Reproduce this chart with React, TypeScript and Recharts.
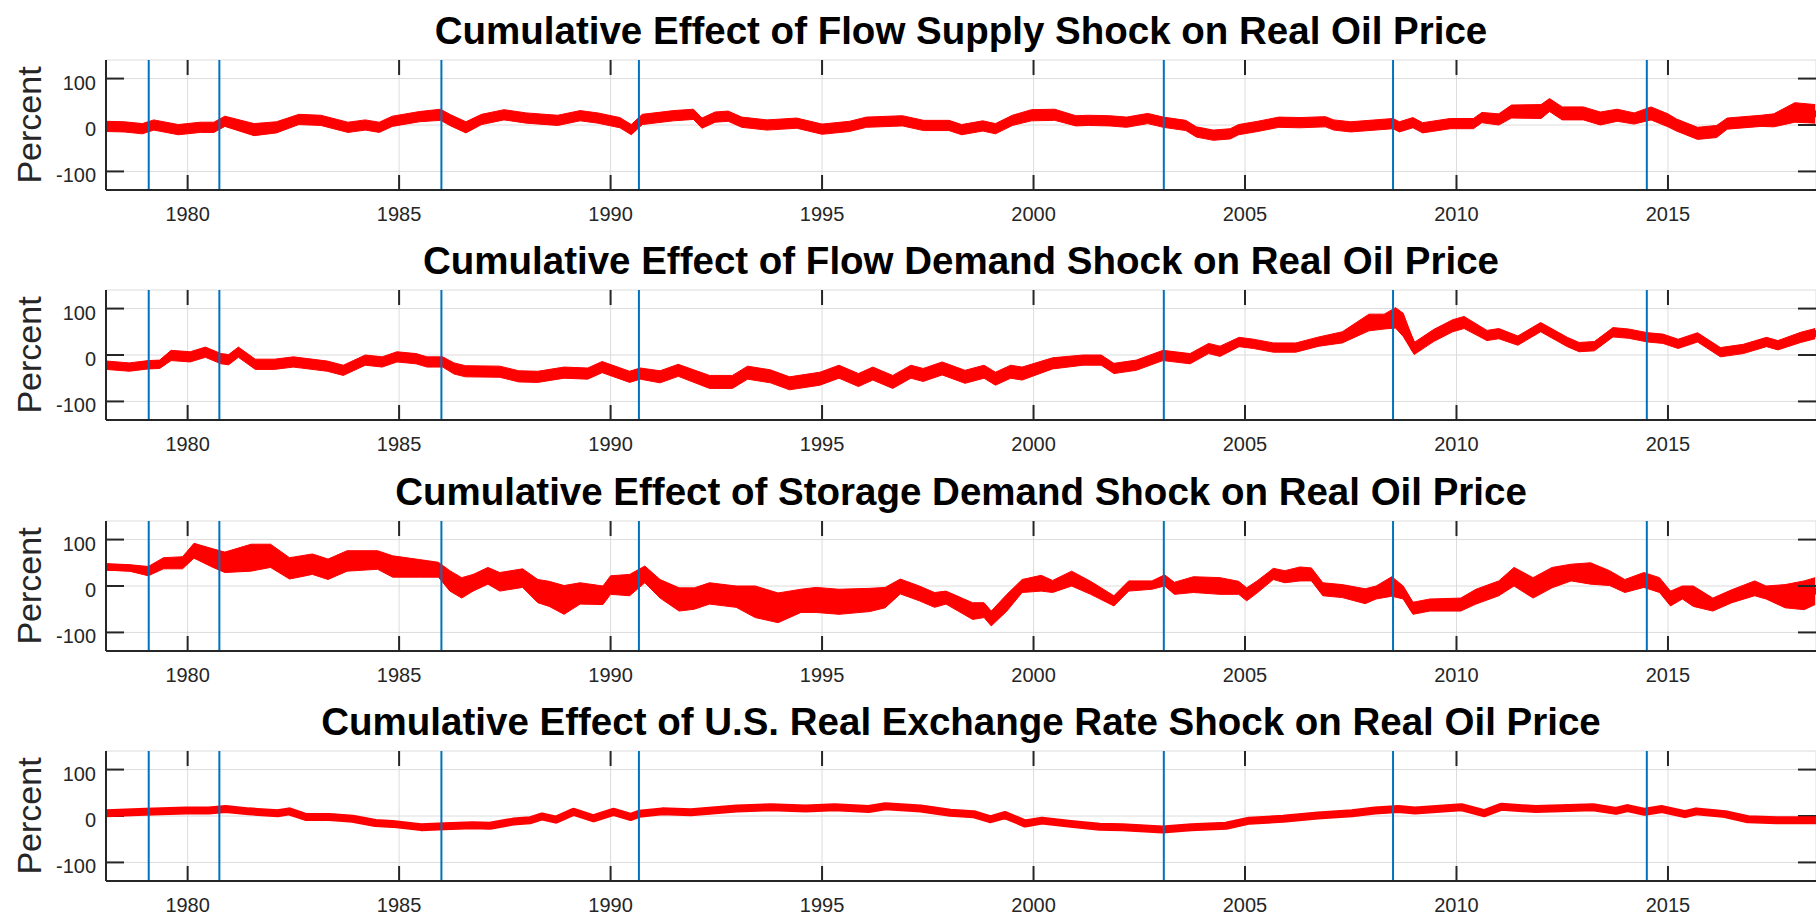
import React from "react";
import { ComposedChart, Area, Line, XAxis, YAxis, CartesianGrid, ReferenceLine } from "recharts";

// x axis: decimal years
const yearTicks = [1980, 1985, 1990, 1995, 2000, 2005, 2010, 2015];
const percentTicks = [-100, 0, 100];
// dates marked with vertical lines
const eventDates = [1979.08, 1980.75, 1986.0, 1990.67, 2003.08, 2008.5, 2014.5];

// Flow supply shock
const supplyYears = [
  1978.07, 1978.5, 1978.93, 1979.2, 1979.78, 1980.3, 1980.62, 1980.88, 1981.57, 1982.1,
  1982.63, 1983.15, 1983.79, 1984.2, 1984.53, 1984.84, 1985.48, 1985.98, 1986.22, 1986.58,
  1986.95, 1987.48, 1988.01, 1988.75, 1989.28, 1989.7, 1990.22, 1990.49, 1990.75, 1991.49,
  1991.96, 1992.16, 1992.47, 1992.78, 1993.1, 1993.7, 1994.4, 1995.0, 1995.65, 1996.05,
  1996.9, 1997.4, 1998.0, 1998.3, 1998.8, 1999.1, 1999.5, 1999.95, 2000.5, 2001.0,
  2001.3, 2001.8, 2002.2, 2002.7, 2003.07, 2003.6, 2003.85, 2004.25, 2004.65, 2004.85,
  2005.3, 2005.8, 2006.3, 2006.9, 2007.1, 2007.5, 2008.5, 2008.65, 2008.97, 2009.2,
  2009.85, 2010.4, 2010.6, 2011.0, 2011.3, 2012.0, 2012.2, 2012.5, 2013.0, 2013.4,
  2013.8, 2014.2, 2014.6, 2015.0, 2015.2, 2015.7, 2016.15, 2016.4, 2017.2, 2017.5,
  2018.0, 2018.48,
];
const supplyMid = [
  -3, -4, -8, 0, -10, -5, -5, 8, -10, -5,
  12, 10, -5, 0, -5, 8, 18, 22, 10, -5,
  12, 22, 15, 10, 20, 15, 5, -10, 12, 20,
  23, 4, 17, 19, 6, 0, 4, -9, -3, 6,
  9, -1, -1, -10, -2, -8, 10, 21, 22, 9,
  10, 9, 6, 14, 6, -1, -15, -22, -19, -10,
  -3, 6, 5, 7, 0, -4, 3, -4, 5, -6,
  3, 3, 16, 12, 29, 29, 43, 25, 25, 14,
  21, 14, 25, 10, 0, -18, -14, 3, 9, 10,
  27, 24,
];
const supplyHalf = [
  11, 11, 11, 11, 11, 11, 11, 11, 13, 12,
  11, 11, 11, 11, 11, 11, 11, 12, 12, 12,
  11, 11, 11, 11, 11, 11, 11, 11, 11, 11,
  11, 11, 11, 11, 11, 11, 11, 11, 11, 11,
  11, 11, 11, 11, 11, 11, 11, 12, 12, 11,
  11, 11, 11, 11, 11, 11, 11, 11, 11, 11,
  11, 11, 11, 11, 11, 11, 11, 11, 11, 11,
  11, 11, 11, 12, 14, 15, 14, 14, 14, 14,
  13, 12, 14, 14, 13, 13, 13, 12, 12, 14,
  21, 20,
];

// Flow demand shock
const demandYears = [
  1978.08, 1978.62, 1979.07, 1979.34, 1979.61, 1980.06, 1980.42, 1980.79, 1980.97, 1981.2,
  1981.6, 1982.05, 1982.5, 1983.3, 1983.68, 1984.2, 1984.6, 1984.95, 1985.4, 1985.66,
  1986.03, 1986.3, 1986.57, 1987.38, 1987.83, 1988.28, 1988.9, 1989.46, 1989.8, 1990.45,
  1990.7, 1991.17, 1991.6, 1992.34, 1992.88, 1993.24, 1993.78, 1994.23, 1994.95, 1995.4,
  1995.86, 1996.2, 1996.67, 1997.1, 1997.39, 1997.84, 1998.38, 1998.83, 1999.1, 1999.46,
  1999.73, 2000.45, 2001.17, 2001.6, 2001.9, 2002.43, 2003.06, 2003.7, 2004.14, 2004.41,
  2004.86, 2005.2, 2005.67, 2006.2, 2006.75, 2007.3, 2007.93, 2008.29, 2008.56, 2008.74,
  2009.0, 2009.46, 2009.91, 2010.18, 2010.72, 2011.0, 2011.45, 2011.99, 2012.62, 2012.9,
  2013.26, 2013.7, 2014.07, 2014.52, 2014.88, 2015.24, 2015.7, 2016.24, 2016.78, 2017.33,
  2017.6, 2018.14, 2018.48,
];
const demandMid = [
  -22, -26, -21, -20, -1, -4, 6, -8, -10, 6,
  -20, -20, -15, -24, -33, -11, -15, -4, -8, -15,
  -15, -29, -35, -36, -46, -47, -38, -40, -26, -47,
  -40, -47, -33, -58, -58, -38, -46, -61, -51, -36,
  -54, -40, -58, -36, -43, -29, -47, -36, -51, -36,
  -40, -18, -11, -11, -29, -22, -1, -8, 14, 8,
  28, 24, 16, 16, 29, 38, 70, 72, 80, 65,
  14, 42, 63, 70, 42, 46, 31, 60, 28, 17,
  19, 49, 46, 38, 35, 24, 38, 6, 13, 28,
  21, 38, 46,
];
const demandHalf = [
  9, 9, 9, 9, 11, 11, 11, 11, 11, 11,
  11, 11, 11, 11, 11, 11, 11, 11, 11, 11,
  11, 12, 12, 12, 12, 12, 12, 12, 12, 12,
  12, 13, 13, 14, 14, 14, 14, 14, 14, 14,
  14, 14, 14, 14, 14, 14, 14, 14, 14, 14,
  14, 12, 11, 11, 11, 11, 11, 11, 11, 11,
  10, 10, 10, 10, 10, 12, 18, 16, 22, 25,
  13, 13, 13, 13, 11, 11, 10, 10, 10, 10,
  10, 10, 10, 10, 10, 10, 10, 10, 10, 10,
  10, 11, 11,
];

// Storage demand shock
const storageYears = [
  1978.08, 1978.62, 1979.07, 1979.43, 1979.88, 1980.15, 1980.6, 1980.88, 1981.5, 1981.96,
  1982.41, 1982.95, 1983.32, 1983.77, 1984.49, 1984.85, 1985.48, 1985.93, 1986.2, 1986.48,
  1986.75, 1987.1, 1987.38, 1987.92, 1988.28, 1988.55, 1988.9, 1989.28, 1989.82, 1990.0,
  1990.45, 1990.81, 1991.17, 1991.62, 1991.98, 1992.34, 1992.97, 1993.42, 1993.96, 1994.5,
  1994.86, 1995.4, 1996.13, 1996.49, 1996.85, 1997.3, 1997.66, 1997.93, 1998.56, 1998.83,
  1999.0, 1999.37, 1999.73, 2000.18, 2000.45, 2000.9, 2001.35, 2001.9, 2002.25, 2002.8,
  2003.1, 2003.33, 2003.78, 2004.41, 2004.85, 2005.04, 2005.3, 2005.67, 2005.94, 2006.3,
  2006.57, 2006.84, 2007.3, 2007.84, 2008.1, 2008.47, 2008.74, 2008.97, 2009.37, 2010.1,
  2010.46, 2011.0, 2011.36, 2011.81, 2012.26, 2012.71, 2013.17, 2013.62, 2013.98, 2014.43,
  2014.8, 2015.06, 2015.34, 2015.6, 2016.06, 2016.51, 2017.05, 2017.32, 2017.77, 2018.22,
  2018.48,
];
const storageMid = [
  41, 39, 32, 49, 50, 76, 60, 51, 61, 65,
  38, 47, 36, 54, 56, 42, 38, 35, 11, -4,
  7, 22, 9, 17, -11, -17, -30, -16, -20, 2,
  2, 25, -6, -29, -27, -16, -23, -34, -47, -32,
  -30, -34, -30, -25, -1, -16, -30, -25, -54, -52,
  -70, -36, 0, 6, -1, 16, -4, -32, 0, 2,
  12, -5, 3, 0, -4, -18, -1, 26, 20, 26,
  25, -7, -11, -22, -14, -1, -14, -48, -41, -40,
  -23, -5, 20, -4, 18, 29, 27, 17, 0, 13,
  2, -27, -14, -22, -40, -22, -5, -14, -22, -20,
  -11,
];
const storageHalf = [
  7, 7, 10, 12, 13, 16, 20, 22, 29, 25,
  23, 22, 22, 22, 20, 23, 19, 16, 22, 22,
  18, 18, 20, 20, 25, 27, 31, 23, 20, 20,
  23, 18, 20, 25, 23, 23, 23, 34, 32, 25,
  27, 27, 25, 22, 16, 16, 16, 14, 18, 16,
  16, 18, 14, 17, 13, 16, 14, 11, 11, 9,
  12, 13, 17, 18, 14, 14, 13, 12, 13, 15,
  14, 14, 14, 16, 14, 21, 14, 13, 13, 14,
  16, 16, 20, 22, 22, 18, 23, 16, 14, 16,
  16, 16, 14, 22, 14, 14, 16, 14, 25, 31,
  29,
];

// U.S. real exchange rate shock
const fxYears = [
  1978.06, 1979.0, 1979.96, 1980.5, 1980.9, 1981.45, 1982.13, 1982.4, 1982.8, 1983.35,
  1983.9, 1984.44, 1984.84, 1985.52, 1986.07, 1986.74, 1987.15, 1987.7, 1988.1, 1988.37,
  1988.71, 1989.12, 1989.59, 1990.07, 1990.47, 1990.68, 1991.22, 1991.9, 1992.98, 1993.8,
  1994.61, 1995.3, 1996.1, 1996.5, 1997.33, 1998.03, 1998.58, 1998.98, 1999.32, 1999.8,
  2000.2, 2000.88, 2001.56, 2002.1, 2003.05, 2003.73, 2004.55, 2005.1, 2005.9, 2006.72,
  2007.53, 2008.07, 2008.62, 2009.02, 2010.11, 2010.65, 2011.06, 2011.87, 2013.23, 2013.77,
  2014.04, 2014.45, 2014.86, 2015.4, 2015.67, 2016.35, 2016.89, 2017.57, 2018.49,
];
const fxMid = [
  6, 9, 12, 12, 15, 10, 6, 10, -2, -2,
  -6, -15, -17, -24, -22, -20, -21, -12, -9, -1,
  -8, 9, -5, 9, -2, 5, 10, 8, 16, 19,
  16, 19, 15, 21, 16, 7, 4, -7, 2, -16,
  -10, -17, -23, -24, -29, -24, -21, -10, -6, 1,
  6, 12, 15, 12, 19, 6, 20, 15, 19, 11,
  17, 9, 15, 4, 10, 4, -7, -9, -9,
];

const FONT = '"Liberation Sans", Arial, Helvetica, sans-serif';
const AXIS_COLOR = "#262626";
const RED = "#ff0000";
const BLUE = "#0072bd";
const X_DOMAIN = [1978.07, 2018.5];
const Y_DOMAIN = [-140, 140];

const CHART_W = 1816;
const CHART_H = 230;
const PLOT_TOP = 60;
const PLOT_LEFT = 106;
const PLOT_H = 130;

// tick mark lengths (15px / 18px), expressed in axis units
const X_TICK_LEN = (15 * (Y_DOMAIN[1] - Y_DOMAIN[0])) / PLOT_H;
const Y_TICK_LEN = (18 * (X_DOMAIN[1] - X_DOMAIN[0])) / (CHART_W - PLOT_LEFT);

const XTick = (props: any) => (
  <text x={props.x} y={props.y} textAnchor="middle" fontSize={20} fill={AXIS_COLOR} fontFamily={FONT}>
    {props.payload.value}
  </text>
);

const YTick = (props: any) => (
  <text x={props.x} y={props.y + 11} textAnchor="end" fontSize={20} fill={AXIS_COLOR} fontFamily={FONT}>
    {props.payload.value}
  </text>
);

interface PanelProps {
  top: number;
  title: string;
  years: number[];
  mid: number[];
  half?: number[];
  lineWidth: number;
}

const Panel: React.FC<PanelProps> = ({ top, title, years, mid, half, lineWidth }) => {
  const rows = years.map((year, i) => ({
    year,
    mid: mid[i],
    band: half ? [mid[i] - half[i], mid[i] + half[i]] : null,
  }));
  const axisLine = { stroke: AXIS_COLOR, strokeWidth: 2 };

  // inward tick marks on all four sides of the box
  const tickSegments: { x: number; y: number }[][] = [];
  yearTicks.forEach((t) => {
    tickSegments.push([{ x: t, y: Y_DOMAIN[0] }, { x: t, y: Y_DOMAIN[0] + X_TICK_LEN }]);
    tickSegments.push([{ x: t, y: Y_DOMAIN[1] }, { x: t, y: Y_DOMAIN[1] - X_TICK_LEN }]);
  });
  percentTicks.forEach((p) => {
    tickSegments.push([{ x: X_DOMAIN[0], y: p }, { x: X_DOMAIN[0] + Y_TICK_LEN, y: p }]);
    tickSegments.push([{ x: X_DOMAIN[1], y: p }, { x: X_DOMAIN[1] - Y_TICK_LEN, y: p }]);
  });

  return (
    <div style={{ position: "absolute", left: 0, top: top - PLOT_TOP, width: CHART_W, height: CHART_H }}>
      <div
        style={{
          position: "absolute",
          left: PLOT_LEFT,
          width: CHART_W - PLOT_LEFT,
          top: PLOT_TOP - 48,
          textAlign: "center",
          fontSize: 38.5,
          lineHeight: "38px",
          fontWeight: "bold",
          fontFamily: FONT,
          color: "#000",
          whiteSpace: "nowrap",
        }}
      >
        {title}
      </div>
      <div
        style={{
          position: "absolute",
          left: 29,
          top: PLOT_TOP + PLOT_H / 2,
          transform: "translate(-50%, -50%) rotate(-90deg)",
          fontSize: 34,
          lineHeight: "34px",
          fontFamily: FONT,
          color: AXIS_COLOR,
          whiteSpace: "nowrap",
        }}
      >
        Percent
      </div>
      <ComposedChart
        width={CHART_W}
        height={CHART_H}
        data={rows}
        margin={{ top: PLOT_TOP, right: 0, bottom: 0, left: 0 }}
        style={{ overflow: "visible" }}
      >
        <CartesianGrid stroke="#dcdcdc" strokeWidth={1} />
        <XAxis
          type="number"
          dataKey="year"
          domain={X_DOMAIN}
          ticks={yearTicks}
          interval={0}
          allowDataOverflow
          height={CHART_H - PLOT_TOP - PLOT_H}
          tickSize={0}
          tickMargin={31}
          tick={XTick}
          axisLine={axisLine}
          tickLine={false}
        />
        <XAxis
          xAxisId="top"
          orientation="top"
          type="number"
          dataKey="year"
          domain={X_DOMAIN}
          ticks={yearTicks}
          allowDataOverflow
          height={0}
          tick={false}
          axisLine={axisLine}
          tickLine={false}
        />
        <YAxis
          type="number"
          domain={Y_DOMAIN}
          ticks={percentTicks}
          interval={0}
          allowDataOverflow
          width={PLOT_LEFT}
          tickSize={0}
          tickMargin={10}
          tick={YTick}
          axisLine={axisLine}
          tickLine={false}
        />
        <YAxis
          yAxisId="right"
          orientation="right"
          type="number"
          domain={Y_DOMAIN}
          ticks={percentTicks}
          allowDataOverflow
          width={0}
          tick={false}
          axisLine={axisLine}
          tickLine={false}
        />
        {tickSegments.map((seg, i) => (
          <ReferenceLine key={`tk${i}`} segment={seg} stroke={AXIS_COLOR} strokeWidth={2} ifOverflow="visible" />
        ))}
        {half && (
          <Area
            type="linear"
            dataKey="band"
            stroke={RED}
            strokeWidth={1}
            fill={RED}
            fillOpacity={1}
            dot={false}
            activeDot={false}
            isAnimationActive={false}
          />
        )}
        <Line
          type="linear"
          dataKey="mid"
          stroke={RED}
          strokeWidth={lineWidth}
          strokeLinejoin="round"
          strokeLinecap="round"
          dot={false}
          activeDot={false}
          isAnimationActive={false}
        />
        {eventDates.map((d) => (
          <ReferenceLine key={d} x={d} stroke={BLUE} strokeWidth={2} />
        ))}
      </ComposedChart>
    </div>
  );
};

export default function App() {
  return (
    <div
      style={{
        position: "fixed",
        left: 0,
        top: 0,
        width: 1816,
        height: 916,
        background: "#fff",
      }}
    >
      <Panel
        top={60}
        title="Cumulative Effect of Flow Supply Shock on Real Oil Price"
        years={supplyYears}
        mid={supplyMid}
        half={supplyHalf}
        lineWidth={7}
      />
      <Panel
        top={290.4}
        title="Cumulative Effect of Flow Demand Shock on Real Oil Price"
        years={demandYears}
        mid={demandMid}
        half={demandHalf}
        lineWidth={7}
      />
      <Panel
        top={520.8}
        title="Cumulative Effect of Storage Demand Shock on Real Oil Price"
        years={storageYears}
        mid={storageMid}
        half={storageHalf}
        lineWidth={7}
      />
      <Panel
        top={751.2}
        title="Cumulative Effect of U.S. Real Exchange Rate Shock on Real Oil Price"
        years={fxYears}
        mid={fxMid}
        lineWidth={8}
      />
    </div>
  );
}
